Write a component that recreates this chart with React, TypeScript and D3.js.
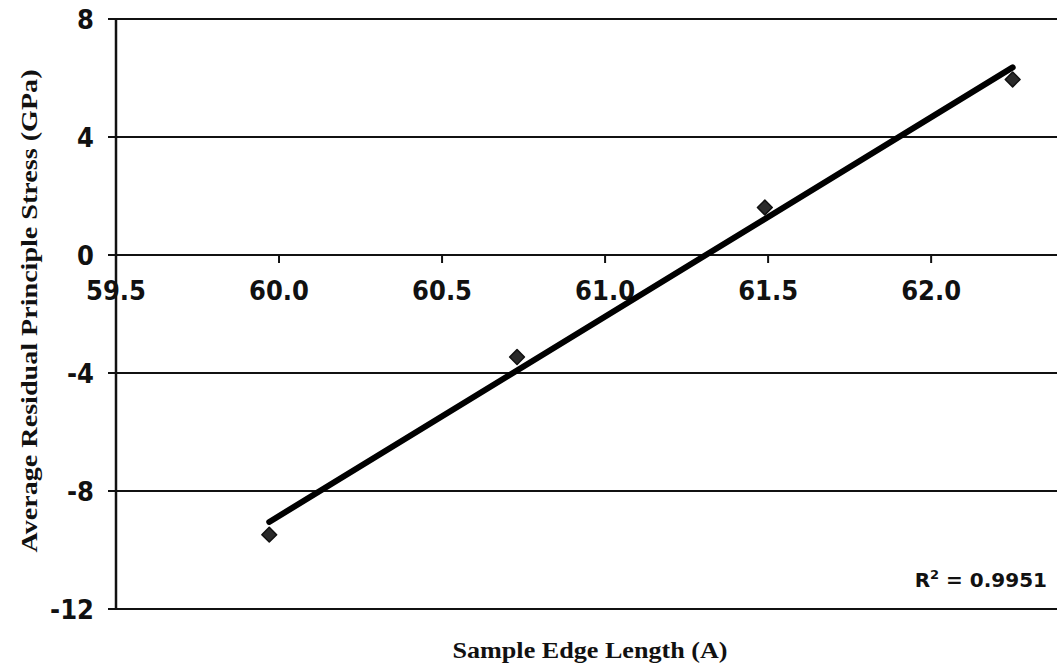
import React from "react";
import * as d3 from "d3";

const edgeLength = [59.97, 60.73, 61.49, 62.25];
const stress = [-9.48, -3.46, 1.61, 5.95];
const xTicks = [59.5, 60.0, 60.5, 61.0, 61.5, 62.0];
const yTicks = [8, 4, 0, -4, -8, -12];
const rSquaredLabel = "0.9951";

const W = 1057;
const H = 671;

function drawChart(svgEl: SVGSVGElement) {
  const svg = d3.select(svgEl);
  svg.selectAll("*").remove();

  const x = d3.scaleLinear().domain([59.5, 62.386]).range([116, W]);
  const y = d3.scaleLinear().domain([-12, 8]).range([609, 19]);

  const tickFont = "'DejaVu Sans Condensed', 'DejaVu Sans', Verdana, sans-serif";
  const sansBold = "'DejaVu Sans', Verdana, sans-serif";
  const serifBold = "'Liberation Serif', 'Times New Roman', serif";

  // horizontal gridlines
  svg.append("g")
    .selectAll("line")
    .data(yTicks)
    .join("line")
    .attr("x1", x(59.5))
    .attr("x2", W)
    .attr("y1", d => y(d))
    .attr("y2", d => y(d))
    .attr("stroke", "#111")
    .attr("stroke-width", 2);

  // y axis
  svg.append("line")
    .attr("x1", x(59.5)).attr("x2", x(59.5))
    .attr("y1", y(8)).attr("y2", y(-12))
    .attr("stroke", "#111").attr("stroke-width", 2.5);

  // y ticks + labels
  const yg = svg.append("g");
  yg.selectAll("line")
    .data(yTicks)
    .join("line")
    .attr("x1", x(59.5) - 8).attr("x2", x(59.5))
    .attr("y1", d => y(d)).attr("y2", d => y(d))
    .attr("stroke", "#111").attr("stroke-width", 2);
  yg.selectAll("text")
    .data(yTicks)
    .join("text")
    .attr("x", 94)
    .attr("y", d => y(d))
    .attr("dy", "0.36em")
    .attr("text-anchor", "end")
    .attr("font-family", tickFont)
    .attr("font-weight", "bold")
    .attr("font-size", 27)
    .attr("fill", "#111")
    .text(d => String(d));

  // x ticks + labels (on the zero line)
  const xg = svg.append("g");
  xg.selectAll("line")
    .data(xTicks.slice(1))
    .join("line")
    .attr("x1", d => x(d)).attr("x2", d => x(d))
    .attr("y1", y(0)).attr("y2", y(0) + 8)
    .attr("stroke", "#111").attr("stroke-width", 2);
  xg.selectAll("text")
    .data(xTicks)
    .join("text")
    .attr("x", d => x(d))
    .attr("y", 300)
    .attr("text-anchor", "middle")
    .attr("font-family", tickFont)
    .attr("font-weight", "bold")
    .attr("font-size", 27)
    .attr("fill", "#111")
    .text(d => d.toFixed(1));

  // linear fit
  const mx = d3.mean(edgeLength)!;
  const my = d3.mean(stress)!;
  const sxy = d3.sum(edgeLength, (v, i) => (v - mx) * (stress[i] - my));
  const sxx = d3.sum(edgeLength, v => (v - mx) ** 2);
  const slope = sxy / sxx;
  const icpt = my - slope * mx;
  const ends = d3.extent(edgeLength) as [number, number];

  const line = d3.line<number>()
    .x(d => x(d))
    .y(d => y(slope * d + icpt));

  svg.append("path")
    .datum(ends)
    .attr("d", line)
    .attr("fill", "none")
    .attr("stroke", "#000")
    .attr("stroke-width", 6)
    .attr("stroke-linecap", "round");

  // markers: square turned 45 degrees
  const sym = d3.symbol().type(d3.symbolSquare).size(110);
  svg.append("g")
    .selectAll("path")
    .data(edgeLength)
    .join("path")
    .attr("d", sym)
    .attr("transform", (d, i) => `translate(${x(d)},${y(stress[i])}) rotate(45)`)
    .attr("fill", "#2a2a2a")
    .attr("stroke", "#111")
    .attr("stroke-width", 1.5)
    .attr("stroke-linejoin", "round");

  // R squared
  const r2 = svg.append("text")
    .attr("x", 1047)
    .attr("y", 587)
    .attr("text-anchor", "end")
    .attr("font-family", sansBold)
    .attr("font-weight", "bold")
    .attr("font-size", 20)
    .attr("fill", "#111");
  r2.append("tspan").text("R");
  r2.append("tspan").attr("dy", -8).attr("font-size", 13).text("2");
  r2.append("tspan").attr("dy", 8).text(" = " + rSquaredLabel);

  // axis titles
  svg.append("text")
    .attr("x", 590)
    .attr("y", 658)
    .attr("text-anchor", "middle")
    .attr("font-family", serifBold)
    .attr("font-weight", "bold")
    .attr("font-size", 23)
    .attr("textLength", 275)
    .attr("lengthAdjust", "spacingAndGlyphs")
    .attr("fill", "#111")
    .text("Sample Edge Length (A)");

  svg.append("text")
    .attr("transform", `translate(37,${311}) rotate(-90)`)
    .attr("text-anchor", "middle")
    .attr("font-family", serifBold)
    .attr("font-weight", "bold")
    .attr("font-size", 23)
    .attr("textLength", 483)
    .attr("lengthAdjust", "spacingAndGlyphs")
    .attr("fill", "#111")
    .text("Average Residual Principle Stress (GPa)");
}

export default function App() {
  const ref = React.useRef<SVGSVGElement>(null);

  React.useEffect(() => {
    if (ref.current) drawChart(ref.current);
  }, []);

  return (
    <svg
      ref={ref}
      width={W}
      height={H}
      style={{ position: "absolute", left: 0, top: 0, background: "#fff" }}
    />
  );
}
